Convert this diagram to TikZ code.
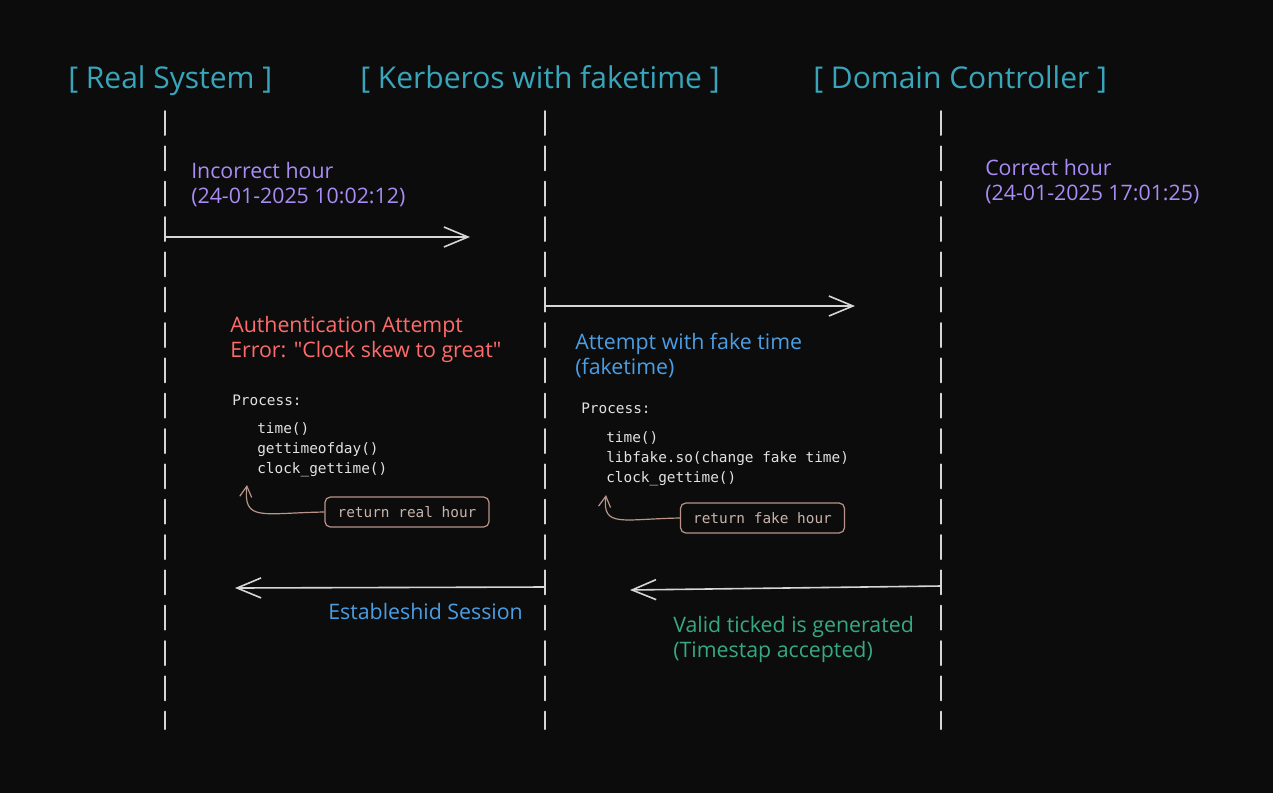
\documentclass[tikz,border=0pt]{standalone}
\usepackage{fontspec}
\setmainfont{Open Sans}
\setmonofont{DejaVu Sans Mono}
\usetikzlibrary{arrows.meta}
\definecolor{bgdark}{HTML}{0C0C0C}
\definecolor{titleteal}{HTML}{38A5BA}
\definecolor{violetnote}{HTML}{A98CF5}
\definecolor{rednote}{HTML}{FF6B6B}
\definecolor{bluenote}{HTML}{4A9EE4}
\definecolor{greennote}{HTML}{36A983}
\definecolor{codegrey}{HTML}{E2E2E2}
\definecolor{linegrey}{HTML}{D6D6D6}
\definecolor{boxtan}{HTML}{B8948A}
\definecolor{boxtext}{HTML}{C9B3AB}

\begin{document}
\begin{tikzpicture}[x=0.75pt, y=-0.75pt,
  title/.style={anchor=base west, inner sep=0pt, text=titleteal, font=\fontsize{22.5}{26}\selectfont},
  note/.style={anchor=base west, align=left, inner sep=0pt, font=\fontsize{16}{18.5}\selectfont},
  code/.style={anchor=base west, align=left, inner sep=0pt, text=codegrey, font=\ttfamily\fontsize{10.8}{15}\selectfont},
  retbox/.style={draw=boxtan, rounded corners=4pt, line width=0.9pt, text=boxtext,
    font=\ttfamily\fontsize{10.8}{13}\selectfont, minimum width=123pt, minimum height=22.5pt},
  lifeline/.style={draw=linegrey, line width=1.5pt, line cap=round, dash pattern=on 18pt off 8.5pt},
  msg/.style={draw=linegrey, line width=1.2pt, -{Straight Barb[length=18pt, width=15pt]}},
  back/.style={draw=boxtan, line width=0.9pt, -{Straight Barb[length=8pt, width=9pt]}}
]
\useasboundingbox[fill=bgdark] (0,0) rectangle (1273,793);

\node[title] (realsys) at (68,88) {[ Real System ]};
\node[title] (kerberos) at (360,88) {[ Kerberos with faketime ]};
\node[title] (domctl) at (813,88) {[ Domain Controller ]};

\coordinate (realtop) at (165,111);
\coordinate (realbot) at (165,729);
\coordinate (kerbtop) at (545,111);
\coordinate (kerbbot) at (545,729);
\coordinate (domtop) at (941,111);
\coordinate (dombot) at (941,729);

\coordinate (realout) at (165,237);
\coordinate (realoutend) at (470,237);
\coordinate (kerbout) at (545,306);
\coordinate (kerboutend) at (855,306);
\coordinate (domback) at (941,586);
\coordinate (dombackend) at (630,590);
\coordinate (kerbback) at (545,587);
\coordinate (kerbbackend) at (235,588);

\node[note, text=violetnote] (wronghour) at (191,203) {Incorrect hour\\(24-01-2025 10:02:12)};
\node[note, text=violetnote] (righthour) at (985,200) {Correct hour\\(24-01-2025 17:01:25)};
\node[note, text=rednote] (autherror) at (230,357) {Authentication Attempt\\Error: \textquotedbl Clock skew to great\textquotedbl};
\node[code] (realproc) at (232,405) {Process:};
\node[code] (realcalls) at (257,473) {time()\\gettimeofday()\\clock\_gettime()};
\node[retbox] (realret) at (407,512) {return real hour};
\node[note, text=bluenote] (fakeattempt) at (575,374) {Attempt with fake time\\(faketime)};
\node[code] (fakeproc) at (581,413) {Process:};
\node[code] (fakecalls) at (606,482) {time()\\libfake.so(change fake time)\\clock\_gettime()};
\node[retbox] (fakeret) at (762.5,518) {return fake hour};
\node[note, text=bluenote] (session) at (328,619) {Estableshid Session};
\node[note, text=greennote] (ticket) at (673,657) {Valid ticked is generated\\(Timestap accepted)};

\coordinate (realtip) at (247,485);
\coordinate (faketip) at (606,495);

\draw[lifeline] (realtop) -- (realbot);
\draw[lifeline] (kerbtop) -- (kerbbot);
\draw[lifeline] (domtop) -- (dombot);
\draw[msg] (realout) -- (realoutend);
\draw[msg] (kerbout) -- (kerboutend);
\draw[msg] (domback) -- (dombackend);
\draw[msg] (kerbback) -- (kerbbackend);
\draw[back] (realret.west) .. controls (262,513) and (243,522) .. (realtip);
\draw[back] (fakeret.west) .. controls (622,519) and (602,528) .. (faketip);
\end{tikzpicture}
\end{document}
